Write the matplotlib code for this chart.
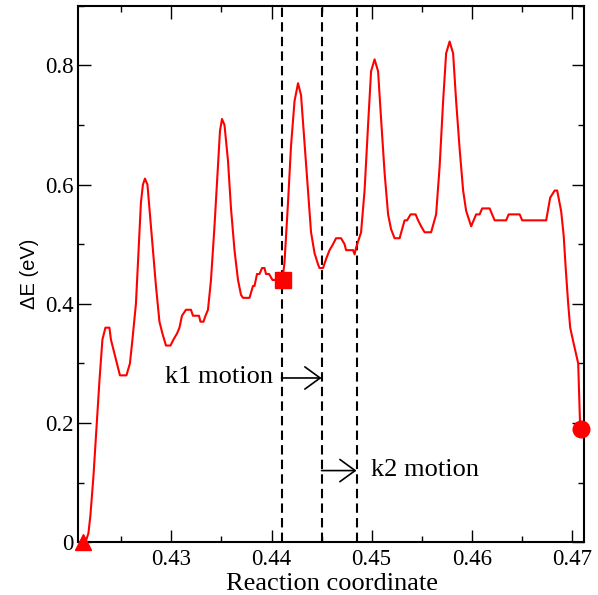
import matplotlib
matplotlib.use("Agg")
import matplotlib.pyplot as plt
from matplotlib.ticker import MultipleLocator, FixedLocator

# ---- data ----
rc = [0.4212, 0.4215, 0.4217, 0.4219, 0.4222, 0.4225, 0.4228, 0.4231, 0.4234, 0.4238,
      0.42395, 0.4244, 0.42485, 0.4255, 0.42585, 0.4261, 0.42645, 0.42675, 0.42695, 0.42715,
      0.42735, 0.4276, 0.42795, 0.42845, 0.4288, 0.4291, 0.42945, 0.4299, 0.4302, 0.43055,
      0.4308, 0.43105, 0.43145, 0.43195, 0.43215, 0.43275, 0.4329, 0.4332, 0.4334, 0.43365,
      0.43395, 0.4343, 0.43465, 0.43485, 0.43505, 0.4353, 0.43565, 0.43595, 0.4363, 0.43665,
      0.43695, 0.43715, 0.4378, 0.43815, 0.4383, 0.43855, 0.4388, 0.43905, 0.4393, 0.43945,
      0.43975, 0.4401, 0.4411, 0.4413, 0.44165, 0.44195, 0.4423, 0.44265, 0.44295, 0.4433,
      0.44365, 0.44395, 0.4443, 0.44465, 0.4448, 0.44515, 0.44545, 0.4458, 0.44615, 0.44645,
      0.44695, 0.4473, 0.44745, 0.44815, 0.4483, 0.44845, 0.44895, 0.4493, 0.44965, 0.44995,
      0.4503, 0.45065, 0.45095, 0.4513, 0.45165, 0.45195, 0.4523, 0.4528, 0.4533, 0.45355,
      0.4539, 0.4544, 0.45465, 0.45495, 0.4553, 0.45595, 0.45645, 0.4568, 0.45715, 0.45745,
      0.4578, 0.45815, 0.45845, 0.4588, 0.45915, 0.45945, 0.45995, 0.46045, 0.4608, 0.46105,
      0.4618, 0.4623, 0.46345, 0.4637, 0.4648, 0.46505, 0.46745, 0.46785, 0.4683, 0.46855,
      0.46895, 0.4692, 0.4694, 0.46965, 0.46985, 0.47015, 0.47065, 0.47085]
dE = [0.00, 0.005, 0.015, 0.045, 0.11, 0.19, 0.27, 0.34, 0.36, 0.36,
      0.34, 0.31, 0.28, 0.28, 0.30, 0.34, 0.40, 0.50, 0.57, 0.60,
      0.61, 0.60, 0.53, 0.43, 0.37, 0.35, 0.33, 0.33, 0.34, 0.35,
      0.36, 0.38, 0.39, 0.39, 0.38, 0.38, 0.37, 0.37, 0.38, 0.39,
      0.44, 0.53, 0.63, 0.69, 0.71, 0.70, 0.64, 0.56, 0.49, 0.44,
      0.415, 0.41, 0.41, 0.43, 0.43, 0.45, 0.45, 0.46, 0.46, 0.45,
      0.45, 0.44, 0.44, 0.47, 0.57, 0.665, 0.74, 0.77, 0.75, 0.67,
      0.59, 0.52, 0.485, 0.466, 0.46, 0.46, 0.475, 0.49, 0.50, 0.51,
      0.51, 0.50, 0.49, 0.49, 0.483, 0.494, 0.52, 0.59, 0.70, 0.79,
      0.81, 0.79, 0.71, 0.62, 0.55, 0.525, 0.51, 0.51, 0.54, 0.54,
      0.55, 0.55, 0.54, 0.53, 0.52, 0.52, 0.55, 0.63, 0.74, 0.82,
      0.84, 0.82, 0.74, 0.66, 0.59, 0.556, 0.53, 0.55, 0.55, 0.56,
      0.56, 0.54, 0.54, 0.55, 0.55, 0.54, 0.54, 0.578, 0.59, 0.59,
      0.555, 0.514, 0.46, 0.40, 0.36, 0.337, 0.30, 0.19]

start_pt = (0.4212, 0.0)
mid_pt = (0.4411, 0.44)
end_pt = (0.4709, 0.19)
vlines_x = [0.4410, 0.4450, 0.4485]
xtick_vals = [0.43, 0.44, 0.45, 0.46, 0.47]
ytick_vals = [0, 0.2, 0.4, 0.6, 0.8]
ytick_labels = ["0", "0.2", "0.4", "0.6", "0.8"]
k1_label = "k1 motion"
k2_label = "k2 motion"

serif = ["Liberation Serif", "DejaVu Serif"]
sans = ["Liberation Sans", "DejaVu Sans"]

fig = plt.figure(figsize=(5.98, 5.95), dpi=100)
ax = fig.add_axes([78/598, 1-542.3/595, (584-78)/598, (542.3-5.7)/595])

ax.plot(rc, dE, color="#ff0000", lw=1.5, zorder=3)
ax.plot(*start_pt, marker="^", color="#ff0000", ms=12, clip_on=False, zorder=4)
ax.plot(*mid_pt, marker="s", color="#ff0000", ms=12, clip_on=False, zorder=4)
ax.plot(*end_pt, marker="o", color="#ff0000", ms=12, clip_on=False, zorder=4)

for xv in vlines_x:
    ax.axvline(xv, color="black", lw=1.5, ls=(0, (4.5, 2.5)), zorder=2)

arrow_kw = dict(arrowstyle="->,head_length=0.55,head_width=0.4", mutation_scale=20,
                lw=1.2, color="black", shrinkA=0, shrinkB=0)
ax.annotate("", xy=(vlines_x[1], 0.2756), xytext=(vlines_x[0], 0.2756), arrowprops=arrow_kw)
ax.annotate("", xy=(vlines_x[2], 0.1203), xytext=(vlines_x[1], 0.1203), arrowprops=arrow_kw)
ax.text(0.4401, 0.267, k1_label, ha="right", va="baseline", fontsize=19, family=serif)
ax.text(0.4499, 0.1114, k2_label, ha="left", va="baseline", fontsize=19, family=serif)

ax.set_xlim(0.42066, 0.47123)
ax.set_ylim(0, 0.9)
ax.xaxis.set_major_locator(FixedLocator(xtick_vals))
ax.xaxis.set_minor_locator(MultipleLocator(0.005))
ax.yaxis.set_major_locator(FixedLocator(ytick_vals))
ax.yaxis.set_minor_locator(MultipleLocator(0.1))
ax.set_xticklabels([f"{v:.2f}" for v in xtick_vals])
ax.set_yticklabels(ytick_labels)
ax.tick_params(which="both", direction="in", top=True, right=True, width=1.0, color="black")
ax.tick_params(which="major", length=9)
ax.tick_params(which="minor", length=4.5)
ax.tick_params(axis="x", which="major", pad=4.5)
ax.tick_params(axis="y", which="major", pad=3)
for lab in ax.get_xticklabels() + ax.get_yticklabels():
    lab.set_family(serif)
    lab.set_fontsize(16.5)
for sp in ax.spines.values():
    sp.set_linewidth(1.5)

ax.set_xlabel("Reaction coordinate", fontsize=19, family=serif)
ax.xaxis.set_label_coords(0.502, -0.058)
ax.set_ylabel("ΔE (eV)", fontsize=14.5, family=sans)
ax.yaxis.set_label_coords(-0.077, 0.5)

fig.savefig("out.png", dpi=100)
